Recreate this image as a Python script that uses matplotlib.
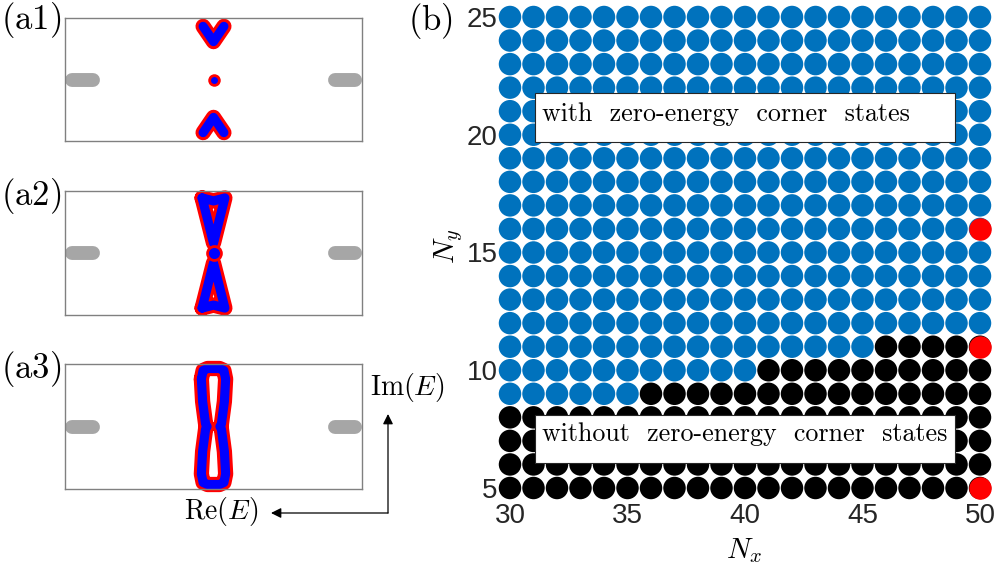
import matplotlib
matplotlib.use("Agg")
import matplotlib.pyplot as plt
from matplotlib.patches import Rectangle, FancyArrowPatch

plt.rcParams["mathtext.fontset"] = "cm"
plt.rcParams["font.family"] = ["Liberation Sans", "DejaVu Sans"]

# ── Data: phase diagram (b) ──
nx_values = [30, 31, 32, 33, 34, 35, 36, 37, 38, 39, 40,
             41, 42, 43, 44, 45, 46, 47, 48, 49, 50]
ny_values = [5, 6, 7, 8, 9, 10, 11, 12, 13, 14, 15,
             16, 17, 18, 19, 20, 21, 22, 23, 24, 25]
# first Nx in each row without zero-energy corner states (51 = none)
no_corner_from = {5: 30, 6: 30, 7: 30, 8: 30, 9: 36, 10: 41, 11: 46}
red_nx = [50, 50, 50]
red_ny = [5, 11, 16]

# ── Data: spectra (a1)-(a3), Re(E) / Im(E) in arbitrary units ──
gray_left_re = [-2.86, -2.43]
gray_right_re = [2.45, 2.86]
gray_im = [0.0, 0.0]

a1_top_re = [-0.21, 0.0, 0.21]
a1_top_im = [1.08, 0.77, 1.08]
a1_bot_re = [-0.21, 0.0, 0.21]
a1_bot_im = [-1.08, -0.77, -1.08]
a1_dot_re = [0.0]
a1_dot_im = [0.0]

a2_top_re = [-0.23, 0.0, 0.23, 0.0, -0.23]
a2_top_im = [1.11, 1.05, 1.11, 0.2, 1.11]
a2_bot_re = [-0.23, 0.0, 0.23, 0.0, -0.23]
a2_bot_im = [-1.11, -1.05, -1.11, -0.2, -1.11]
a2_dot_re = [0.0]
a2_dot_im = [0.0]

a3_re = [-0.245, -0.21, -0.12, 0.12, 0.21, 0.245, 0.22, 0.16, 0.13, 0.16,
         0.22, 0.245, 0.21, 0.12, -0.12, -0.21, -0.245, -0.22, -0.16, -0.13,
         -0.16, -0.22, -0.245]
a3_im = [0.95, 1.12, 1.16, 1.16, 1.12, 0.95, 0.5, 0.05, 0.0, -0.05,
         -0.5, -0.95, -1.12, -1.16, -1.16, -1.12, -0.95, -0.5, -0.05, 0.0,
         0.05, 0.5, 0.95]

RED = "#ff0000"
BLUE = "#0000ff"
GRAY = "#a6a6a6"
MBLUE = "#0072bd"
W, H = 996, 568

fig = plt.figure(figsize=(W / 100, H / 100), dpi=100)


def px_axes(x0, y0, x1, y1):
    return fig.add_axes([x0 / W, 1 - y1 / H, (x1 - x0) / W, (y1 - y0) / H])


def spectrum_panel(ax, curves, dots):
    ax.set_xlim(-3, 3)
    ax.set_ylim(-1.25, 1.25)
    ax.set_xticks([])
    ax.set_yticks([])
    for s in ax.spines.values():
        s.set_color("#808080")
        s.set_linewidth(1.0)
    for re in (gray_left_re, gray_right_re):
        ax.plot(re, gray_im, color=GRAY, lw=10, solid_capstyle="round")
    for re, im in curves:
        ax.plot(re, im, color=RED, lw=11, solid_capstyle="round",
                solid_joinstyle="round", clip_on=False)
    for re, im in curves:
        ax.plot(re, im, color=BLUE, lw=6.6, solid_capstyle="round",
                solid_joinstyle="round", clip_on=False)
    for re, im, big, small in dots:
        ax.plot(re, im, "o", color=RED, ms=big, mew=0, clip_on=False)
        ax.plot(re, im, "o", color=BLUE, ms=small, mew=0, clip_on=False)


ax1 = px_axes(65, 18, 362, 141)
spectrum_panel(ax1, [(a1_top_re, a1_top_im), (a1_bot_re, a1_bot_im)],
               [(a1_dot_re, a1_dot_im, 9, 5)])
ax2 = px_axes(65, 191, 362, 315)
spectrum_panel(ax2, [(a2_top_re, a2_top_im), (a2_bot_re, a2_bot_im)],
               [(a2_dot_re, a2_dot_im, 12, 8)])
ax3 = px_axes(65, 364, 362, 489)
spectrum_panel(ax3, [(a3_re, a3_im)], [])

# ── (b) phase diagram ──
axb = px_axes(510, 17, 980, 488)
xs, ys, cs = [], [], []
for ny in ny_values:
    for nx in nx_values:
        xs.append(nx)
        ys.append(ny)
        cs.append("black" if nx >= no_corner_from.get(ny, 51) else MBLUE)
axb.scatter(xs, ys, s=262, c=cs, linewidths=0, clip_on=False)
axb.scatter(red_nx, red_ny, s=262, c=RED, linewidths=0, clip_on=False, zorder=3)
axb.set_xlim(30, 50)
axb.set_ylim(5, 25)
axb.set_xticks([30, 35, 40, 45, 50])
axb.set_yticks([5, 10, 15, 20, 25])
for s in axb.spines.values():
    s.set_visible(False)
axb.tick_params(axis="both", length=0, labelsize=20, labelcolor="#262626")
axb.tick_params(axis="x", pad=11)
axb.tick_params(axis="y", pad=9)

# ── overlay in pixel coordinates for labels and annotations ──
ov = fig.add_axes([0, 0, 1, 1])
ov.set_xlim(0, W)
ov.set_ylim(H, 0)
ov.axis("off")

for txt, x, y in [("(a1)", 31, 20), ("(a2)", 31, 196), ("(a3)", 31, 369), ("(b)", 430, 21)]:
    ov.text(x, y, r"$\mathrm{%s}$" % txt, fontsize=25, ha="center", va="center")

ov.text(407, 387, r"$\mathrm{Im}(E)$", fontsize=20, ha="center", va="center")
ov.text(221, 511, r"$\mathrm{Re}(E)$", fontsize=20, ha="center", va="center")
ov.text(449, 246, r"$N_y$", fontsize=21, ha="center", va="center", rotation=90)
ov.text(744, 551, r"$N_x$", fontsize=21, ha="center", va="center")

ov.add_patch(FancyArrowPatch((388, 513), (388, 414), arrowstyle="-|>,head_length=6,head_width=3",
                             color="black", lw=0.9, mutation_scale=1, shrinkA=0, shrinkB=0))
ov.add_patch(FancyArrowPatch((388, 513), (271, 513), arrowstyle="-|>,head_length=6,head_width=3",
                             color="black", lw=0.9, mutation_scale=1, shrinkA=0, shrinkB=0))

for (x0, y0, x1, y1), txt, base in [((535, 93, 955, 142), "with  zero-energy  corner  states", 121),
                                    ((535, 415, 955, 463), "without  zero-energy  corner  states", 441)]:
    ov.add_patch(Rectangle((x0, y0), x1 - x0, y1 - y0, facecolor="white",
                           edgecolor="#262626", lw=0.8))
    ov.text(542, base, txt, fontsize=18.7, family="cmr10", ha="left", va="baseline")

fig.savefig("out.png", dpi=100)
